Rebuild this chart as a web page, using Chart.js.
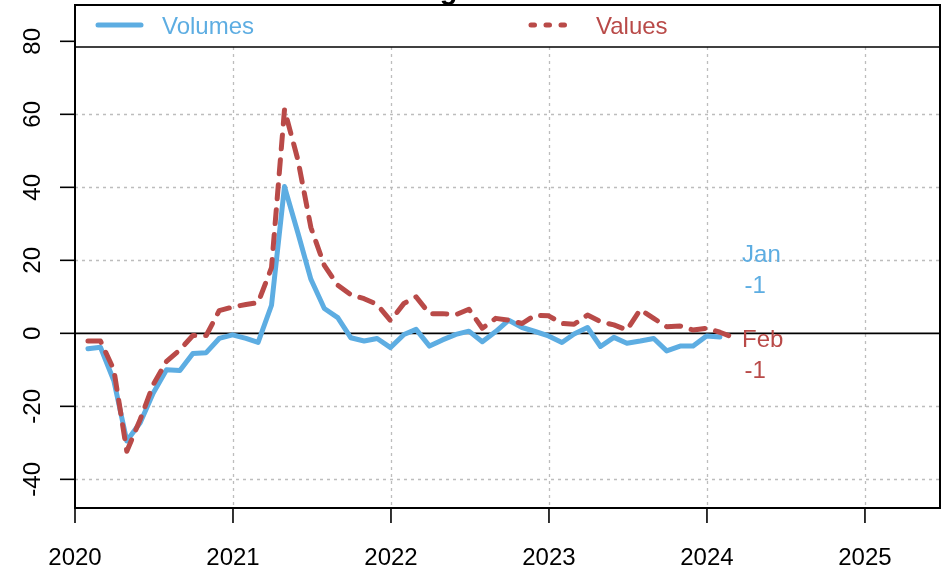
<!DOCTYPE html>
<html>
<head>
<meta charset="utf-8">
<script src="https://cdn.jsdelivr.net/npm/chart.js@4.4.1/dist/chart.umd.min.js"></script>
<style>
  html, body { margin: 0; padding: 0; background: #ffffff; }
  canvas { display: block; }
</style>
</head>
<body>
<canvas id="chart" width="947" height="573"></canvas>
<script>
// Monthly observations (dated at month end)
const months = [
  '2020-01','2020-02','2020-03','2020-04','2020-05','2020-06','2020-07','2020-08','2020-09','2020-10','2020-11','2020-12',
  '2021-01','2021-02','2021-03','2021-04','2021-05','2021-06','2021-07','2021-08','2021-09','2021-10','2021-11','2021-12',
  '2022-01','2022-02','2022-03','2022-04','2022-05','2022-06','2022-07','2022-08','2022-09','2022-10','2022-11','2022-12',
  '2023-01','2023-02','2023-03','2023-04','2023-05','2023-06','2023-07','2023-08','2023-09','2023-10','2023-11','2023-12',
  '2024-01','2024-02'
];

// Year-on-year % change, volumes (to Jan 2024)
const volumes = [
  -4.2, -3.8, -13.0, -29.5, -24.5, -16.4, -10.0, -10.2, -5.5, -5.3, -1.4, -0.4,
  -1.4, -2.5, 7.7, 40.2, 27.5, 14.8, 6.8, 4.3, -1.2, -2.1, -1.4, -3.9,
  -0.3, 1.1, -3.5, -1.8, -0.3, 0.6, -2.3, 0.5, 3.6, 1.6, 0.5, -0.7,
  -2.5, -0.2, 1.6, -3.6, -1.1, -2.7, -2.1, -1.4, -4.8, -3.5, -3.5, -0.7,
  -1
];

// Year-on-year % change, values (to Feb 2024)
const values = [
  -2.1, -2.1, -10.0, -32.3, -23.6, -14.1, -7.7, -4.5, -0.6, -0.6, 6.2, 7.2,
  7.9, 8.4, 18.0, 61.3, 47.5, 29.0, 18.6, 13.2, 10.6, 9.5, 7.9, 3.5,
  8.2, 10.0, 5.4, 5.4, 5.1, 6.6, 1.4, 4.1, 3.6, 2.7, 5.0, 4.8,
  2.7, 2.5, 5.0, 3.2, 2.3, 0.9, 6.5, 4.1, 1.8, 2.0, 0.9, 1.4,
  0.3, -1
];

const seriesNames = ['Volumes', 'Values'];
const xTicks = [2020, 2021, 2022, 2023, 2024, 2025];
const yTicks = [-40, -20, 0, 20, 40, 60, 80];
const monthNames = ['Jan','Feb','Mar','Apr','May','Jun','Jul','Aug','Sep','Oct','Nov','Dec'];
const titleText = 'Retail sales: annual growth in volumes and values';

const BLUE = '#5dade2';
const RED = '#b94a48';
const FONT = '"Liberation Sans", Arial, Helvetica, sans-serif';

// month string -> decimal year at the last day of that month
function monthEnd(ym) {
  const [yr, mo] = ym.split('-').map(Number);
  const start = Date.UTC(yr, 0, 1);
  const next = Date.UTC(yr + 1, 0, 1);
  const last = Date.UTC(yr, mo, 0);
  return yr + (last - start) / (next - start);
}

const toPoints = arr => arr.map((v, i) => ({ x: monthEnd(months[i]), y: v }));

const framePlugin = {
  id: 'frame',
  beforeDatasetsDraw(chart) {
    const { ctx, chartArea: a, scales: { x, y } } = chart;
    ctx.save();
    // dotted grid
    ctx.strokeStyle = '#bdbdbd';
    ctx.lineWidth = 1.3;
    ctx.setLineDash([3, 4]);
    xTicks.forEach(t => {
      const px = Math.round(x.getPixelForValue(t)) + 0.5;
      if (px <= a.left + 2 || px >= a.right - 2) return;
      ctx.beginPath(); ctx.moveTo(px, a.top); ctx.lineTo(px, a.bottom); ctx.stroke();
    });
    yTicks.forEach(t => {
      if (t === 0) return;
      const py = Math.round(y.getPixelForValue(t)) + 0.5;
      ctx.beginPath(); ctx.moveTo(a.left, py); ctx.lineTo(a.right, py); ctx.stroke();
    });
    // zero line
    ctx.setLineDash([]);
    ctx.strokeStyle = '#000';
    ctx.lineWidth = 1.6;
    const y0 = y.getPixelForValue(0);
    ctx.beginPath(); ctx.moveTo(a.left, y0); ctx.lineTo(a.right, y0); ctx.stroke();
    ctx.restore();
  },
  afterDatasetsDraw(chart) {
    const { ctx, chartArea: a, scales: { x, y } } = chart;
    ctx.save();

    // legend band across the top of the panel
    const bandBottom = 47;
    ctx.fillStyle = '#ffffff';
    ctx.fillRect(a.left, a.top, a.right - a.left, bandBottom - a.top);
    ctx.strokeStyle = '#000';
    ctx.lineWidth = 1.6;
    ctx.beginPath(); ctx.moveTo(a.left, bandBottom); ctx.lineTo(a.right, bandBottom); ctx.stroke();

    const ly = 25;
    ctx.lineCap = 'round';
    ctx.lineWidth = 5;
    ctx.strokeStyle = BLUE;
    ctx.beginPath(); ctx.moveTo(98, ly); ctx.lineTo(141, ly); ctx.stroke();
    ctx.strokeStyle = RED;
    ctx.setLineDash([3.5, 11.5]);
    ctx.beginPath(); ctx.moveTo(531, ly); ctx.lineTo(566, ly); ctx.stroke();
    ctx.setLineDash([]);
    ctx.lineCap = 'butt';

    ctx.font = '24px ' + FONT;
    ctx.textBaseline = 'alphabetic';
    ctx.textAlign = 'left';
    ctx.fillStyle = BLUE;
    ctx.fillText(seriesNames[0], 162, 33.5);
    ctx.fillStyle = RED;
    ctx.fillText(seriesNames[1], 596, 33.5);

    // panel frame
    ctx.strokeStyle = '#000';
    ctx.lineWidth = 2;
    ctx.strokeRect(a.left, a.top, a.right - a.left, a.bottom - a.top);

    // x axis ticks and labels
    ctx.lineWidth = 1.6;
    ctx.fillStyle = '#000';
    ctx.textAlign = 'center';
    xTicks.forEach(t => {
      const px = x.getPixelForValue(t);
      ctx.beginPath(); ctx.moveTo(px, a.bottom); ctx.lineTo(px, a.bottom + 15); ctx.stroke();
      ctx.fillText(String(t), px, 565);
    });

    // y axis ticks and rotated labels
    yTicks.forEach(t => {
      const py = y.getPixelForValue(t);
      ctx.beginPath(); ctx.moveTo(a.left - 15, py); ctx.lineTo(a.left, py); ctx.stroke();
      ctx.save();
      ctx.translate(39.5, py);
      ctx.rotate(-Math.PI / 2);
      ctx.fillText(String(t), 0, 0);
      ctx.restore();
    });

    // latest-value notes
    const notes = [
      { data: volumes, color: BLUE, atY: 19.5 },
      { data: values, color: RED, atY: -3.8 }
    ];
    const noteX = x.getPixelForValue(2024.222);
    ctx.textAlign = 'left';
    notes.forEach(n => {
      const last = n.data.length - 1;
      const mo = Number(months[last].split('-')[1]);
      const py = y.getPixelForValue(n.atY);
      ctx.fillStyle = n.color;
      ctx.fillText(monthNames[mo - 1], noteX, py);
      ctx.fillText(String(Math.round(n.data[last])), noteX + 2.5, py + 30.5);
    });

    // heading (sits above the panel)
    ctx.fillStyle = '#000';
    ctx.font = 'bold 29px ' + FONT;
    ctx.textAlign = 'center';
    ctx.fillText(titleText, (a.left + a.right) / 2, -1);

    ctx.restore();
  }
};

new Chart(document.getElementById('chart'), {
  type: 'line',
  data: {
    datasets: [
      {
        label: seriesNames[0],
        data: toPoints(volumes),
        borderColor: BLUE,
        borderWidth: 5,
        borderCapStyle: 'round',
        borderJoinStyle: 'round',
        pointRadius: 0,
        tension: 0,
        fill: false,
        order: 1
      },
      {
        label: seriesNames[1],
        data: toPoints(values),
        borderColor: RED,
        borderWidth: 5,
        borderDash: [14, 11],
        borderCapStyle: 'round',
        borderJoinStyle: 'round',
        pointRadius: 0,
        tension: 0,
        fill: false,
        order: 0
      }
    ]
  },
  options: {
    responsive: false,
    animation: false,
    devicePixelRatio: 1,
    layout: { padding: { left: 75, right: 7, top: 5, bottom: 65 } },
    plugins: { legend: { display: false }, tooltip: { enabled: false }, title: { display: false } },
    scales: {
      x: {
        type: 'linear',
        display: false,
        min: 2020,
        max: 2025.475,
        afterBuildTicks: s => { s.ticks = xTicks.map(v => ({ value: v })); }
      },
      y: {
        type: 'linear',
        display: false,
        min: -47.85,
        max: 89.95,
        afterBuildTicks: s => { s.ticks = yTicks.map(v => ({ value: v })); }
      }
    }
  },
  plugins: [framePlugin]
});
</script>
</body>
</html>
